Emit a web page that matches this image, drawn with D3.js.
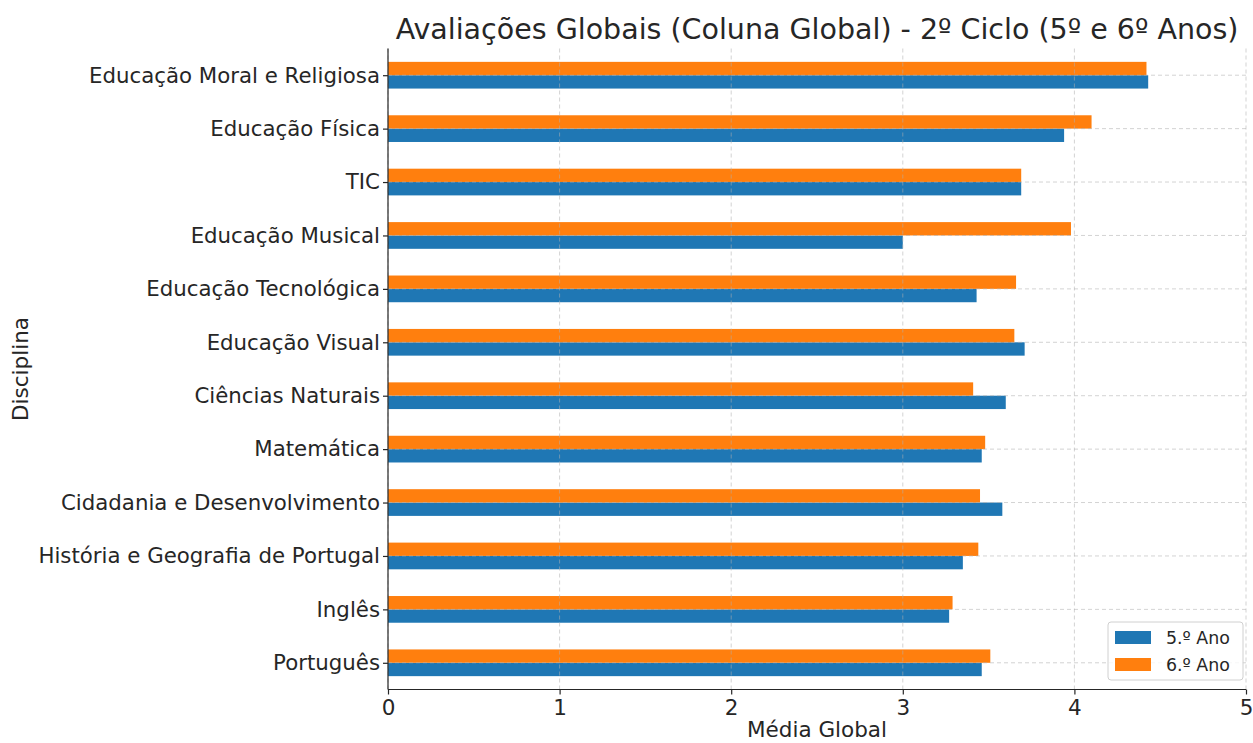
<!DOCTYPE html>
<html><head><meta charset="utf-8">
<script src="https://cdn.jsdelivr.net/npm/d3@7/dist/d3.min.js"></script>
<style>body{margin:0;background:#fff;} text{font-family:"DejaVu Sans",sans-serif;fill:#262626;}</style>
</head><body>
<svg id="c" width="1253" height="743"></svg>
<script>
const categories = ["Português","Inglês","História e Geografia de Portugal","Cidadania e Desenvolvimento","Matemática","Ciências Naturais","Educação Visual","Educação Tecnológica","Educação Musical","TIC","Educação Física","Educação Moral e Religiosa"];
const ano5 = [3.46,3.27,3.35,3.58,3.46,3.60,3.71,3.43,3.00,3.69,3.94,4.43];
const ano6 = [3.51,3.29,3.44,3.45,3.48,3.41,3.65,3.66,3.98,3.69,4.10,4.42];
const seriesNames = ["5.º Ano","6.º Ano"];
const colors = ["#1f77b4","#ff7f0e"];
const xTicks = [0,1,2,3,4,5];

const svg = d3.select("#c");
const m = {l:388, r:1246, t:48.5, b:689.5};
const x = d3.scaleLinear().domain([0,5]).range([m.l,m.r]);
const y = d3.scaleLinear().domain([-0.5, categories.length-0.5]).range([m.b,m.t]);
const bw = y(0)-y(0.25);

const series = [ano5, ano6];
const offs = [-0.125, 0.125];
series.forEach((vals,si)=>{
  svg.append("g").selectAll("rect").data(vals).join("rect")
    .attr("x", x(0))
    .attr("y", (d,i)=> y(i+offs[si]+0.125))
    .attr("width", d=> x(d)-x(0))
    .attr("height", bw)
    .attr("fill", colors[si]);
});

// grid
const grid = svg.append("g").attr("stroke","#b0b0b0").attr("stroke-opacity",0.7).attr("stroke-dasharray","4,3").attr("stroke-width",0.8);
xTicks.forEach(t=> grid.append("line").attr("x1",x(t)).attr("x2",x(t)).attr("y1",m.t).attr("y2",m.b));
categories.forEach((c,i)=> grid.append("line").attr("x1",m.l).attr("x2",m.r).attr("y1",y(i)).attr("y2",y(i)));

// axes
const xa = svg.append("g").attr("transform",`translate(0,${m.b})`)
  .call(d3.axisBottom(x).tickValues(xTicks).tickFormat(d3.format("d")).tickSize(5).tickPadding(5));
xa.selectAll("text").style("font-size","21.5px");
const ya = svg.append("g").attr("transform",`translate(${m.l},0)`)
  .call(d3.axisLeft(y).tickValues(d3.range(categories.length)).tickFormat(i=>categories[i]).tickSize(5).tickPadding(3));
ya.selectAll("text").style("font-size","21.3px");
[xa,ya].forEach(a=>{a.selectAll("line").attr("stroke","#262626").attr("stroke-width",1.2);});
xa.select(".domain").remove(); ya.select(".domain").remove();
svg.append("line").attr("x1",m.l).attr("x2",m.l).attr("y1",m.t).attr("y2",m.b).attr("stroke","#262626").attr("stroke-width",1.2);
svg.append("line").attr("x1",m.l).attr("x2",m.r).attr("y1",m.b).attr("y2",m.b).attr("stroke","#262626").attr("stroke-width",1.2);

// titles
svg.append("text").attr("x",(m.l+m.r)/2).attr("y",39).attr("text-anchor","middle").style("font-size","28.5px")
  .text("Avaliações Globais (Coluna Global) - 2º Ciclo (5º e 6º Anos)");
svg.append("text").attr("x",(m.l+m.r)/2).attr("y",737).attr("text-anchor","middle").style("font-size","21.5px").text("Média Global");
svg.append("text").attr("transform",`translate(28,${(m.t+m.b)/2}) rotate(-90)`).attr("text-anchor","middle").style("font-size","21.5px").text("Disciplina");

// legend
const lg = svg.append("g").attr("transform","translate(1108,622)");
lg.append("rect").attr("width",135).attr("height",58).attr("rx",3).attr("fill","#fff").attr("fill-opacity",0.8).attr("stroke","#d0d0d0");
seriesNames.forEach((n,i)=>{
  lg.append("rect").attr("x",7).attr("y",9+i*27).attr("width",36).attr("height",13).attr("fill",colors[i]);
  lg.append("text").attr("x",58).attr("y",22+i*27).style("font-size","17.4px").text(n);
});
</script>
</body></html>
